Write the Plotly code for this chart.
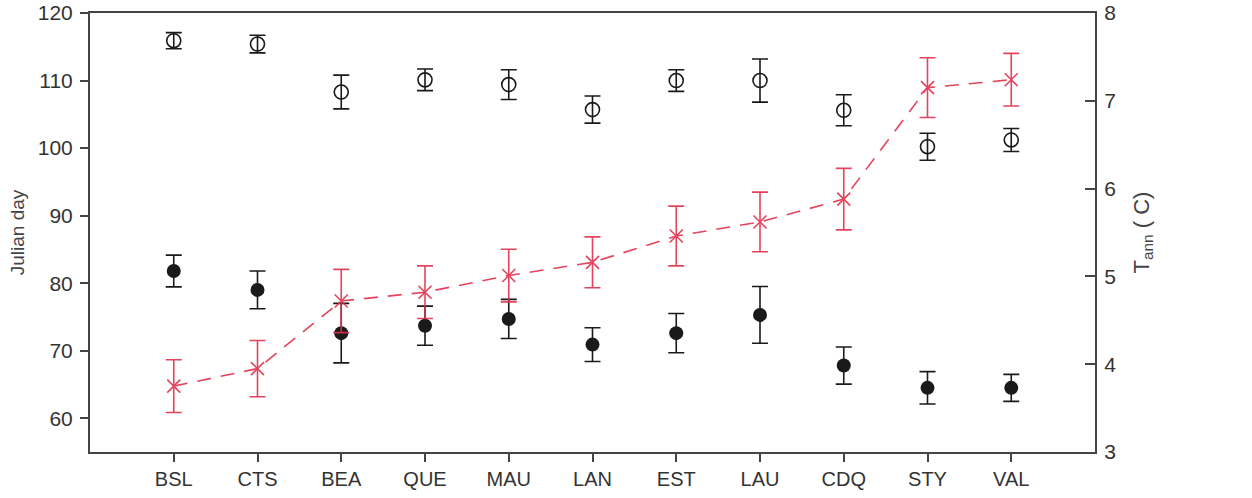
import plotly.graph_objects as go

sites = ["BSL", "CTS", "BEA", "QUE", "MAU", "LAN", "EST", "LAU", "CDQ", "STY", "VAL"]

# Open circles (left axis, Julian day)
open_vals = [115.9, 115.4, 108.3, 110.1, 109.4, 105.7, 110.0, 110.0, 105.6, 100.2, 101.2]
open_err = [1.2, 1.3, 2.5, 1.6, 2.2, 2.0, 1.6, 3.2, 2.3, 2.0, 1.7]

# Filled circles (left axis, Julian day)
fill_vals = [81.8, 79.0, 72.6, 73.7, 74.7, 70.9, 72.6, 75.3, 67.8, 64.5, 64.5]
fill_err = [2.35, 2.8, 4.4, 2.9, 2.9, 2.5, 2.9, 4.2, 2.75, 2.4, 2.0]

# Red crosses (right axis, T_ann in C)
temp_vals = [3.75, 3.95, 4.72, 4.82, 5.01, 5.16, 5.46, 5.62, 5.88, 7.15, 7.24]
temp_err = [0.30, 0.32, 0.36, 0.30, 0.30, 0.29, 0.34, 0.34, 0.35, 0.34, 0.30]

left_ticks = [60, 70, 80, 90, 100, 110, 120]
right_ticks = [3, 4, 5, 6, 7, 8]

xi = list(range(len(sites)))
BLACK = "#1a1a1a"
RED = "#e2304c"
AXC = "#444444"
FONT = "Liberation Sans, Arial, sans-serif"

fig = go.Figure()

fig.add_trace(go.Scatter(
    x=xi, y=open_vals, mode="markers",
    marker=dict(symbol="circle-open", size=14, color=BLACK, line=dict(width=1.6)),
    error_y=dict(type="data", array=open_err, color=BLACK, thickness=1.6, width=8),
    showlegend=False,
))
fig.add_trace(go.Scatter(
    x=xi, y=fill_vals, mode="markers",
    marker=dict(symbol="circle", size=14, color=BLACK),
    error_y=dict(type="data", array=fill_err, color=BLACK, thickness=1.6, width=8),
    showlegend=False,
))
fig.add_trace(go.Scatter(
    x=xi, y=temp_vals, mode="lines+markers", yaxis="y2",
    line=dict(color=RED, width=1.6, dash="14px,10px"),
    marker=dict(symbol="x-thin-open", size=13, color=RED, line=dict(width=1.6, color=RED)),
    error_y=dict(type="data", array=temp_err, color=RED, thickness=1.6, width=8),
    opacity=0.9,
    showlegend=False,
))

fig.update_layout(
    width=1252, height=498,
    margin=dict(l=90, r=157, t=13, b=46),
    paper_bgcolor="white", plot_bgcolor="white",
    font=dict(family=FONT, size=20, color="#333333"),
    xaxis=dict(
        range=[-1, 11], tickmode="array", tickvals=xi, ticktext=sites,
        showline=True, linecolor=AXC, linewidth=2, mirror=True,
        ticks="outside", ticklen=8, tickwidth=1.6, tickcolor=AXC,
        showgrid=False, zeroline=False, tickfont=dict(size=20),
        automargin=False,
    ),
    yaxis=dict(
        range=[55, 120], tickmode="array", tickvals=left_ticks,
        showline=True, linecolor=AXC, linewidth=2,
        ticks="outside", ticklen=8, tickwidth=1.6, tickcolor=AXC,
        showgrid=False, zeroline=False, tickfont=dict(size=21),
        ticklabelstandoff=3,
        automargin=False,
        title=dict(text="Julian day", font=dict(size=19, color="#444444"), standoff=8),
    ),
    yaxis2=dict(
        range=[3, 8], tickmode="array", tickvals=right_ticks,
        overlaying="y", side="right",
        showline=True, linecolor=AXC, linewidth=2,
        ticks="inside", ticklen=10, tickwidth=1.6, tickcolor=AXC,
        showgrid=False, zeroline=False, tickfont=dict(size=21),
        ticklabelstandoff=3,
        automargin=False,
        title=dict(text="T<sub>ann</sub> ( C)", font=dict(size=22, color="#444444"), standoff=18),
    ),
)

fig.write_html("out.html")
